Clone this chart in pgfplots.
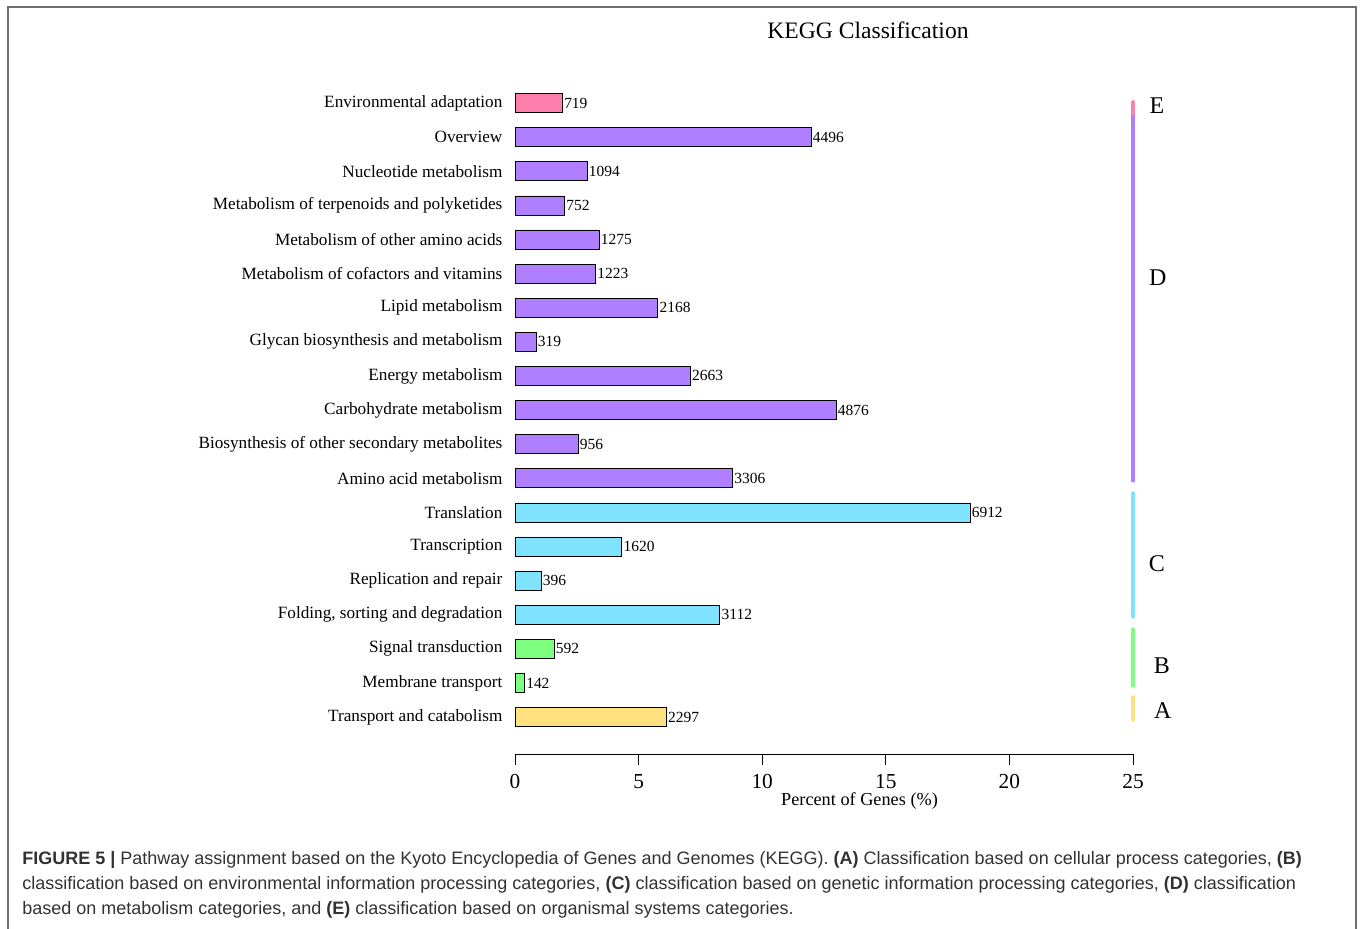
\documentclass[border=0pt]{standalone}
\usepackage{fontspec}
\setmainfont{Liberation Serif}
\newfontfamily\capfont{Liberation Sans}
\usepackage{pgfplots}
\pgfplotsset{compat=1.18}
\usepackage{pgfplotstable}

\definecolor{cE}{RGB}{255,127,172}
\definecolor{cD}{RGB}{176,127,255}
\definecolor{cC}{RGB}{127,226,255}
\definecolor{cB}{RGB}{127,255,127}
\definecolor{cA}{RGB}{255,226,127}
\definecolor{frame}{RGB}{110,110,110}
\definecolor{captxt}{RGB}{50,50,50}

\pgfplotstableread{
y pct n
18 1.914 719
}\tE
\pgfplotstableread{
y pct n
17 11.969 4496
16 2.912 1094
15 2.002 752
14 3.394 1275
13 3.256 1223
12 5.771 2168
11 0.849 319
10 7.089 2663
9 12.980 4876
8 2.545 956
7 8.801 3306
}\tD
\pgfplotstableread{
y pct n
6 18.400 6912
5 4.313 1620
4 1.054 396
3 8.284 3112
}\tC
\pgfplotstableread{
y pct n
2 1.576 592
1 0.378 142
}\tB
\pgfplotstableread{
y pct n
0 6.115 2297
}\tA

\begin{document}
\begin{tikzpicture}
\path[use as bounding box] (0,0) rectangle (1022.25pt,-696pt);
\draw[frame, line width=1.5pt] (6pt,-5.6pt) rectangle (1017pt,-720pt);
\node[font=\fontsize{17.7}{20}\selectfont] at (651pt,-22.5pt) {KEGG Classification};
\begin{axis}[
  at={(386.25pt,-565.5pt)}, anchor=south west,
  scale only axis, width=463.5pt, height=501pt,
  xmin=0, xmax=25, ymin=-1.085, ymax=18.5,
  clip=false,
  xbar, bar width=14.25pt, bar shift=0pt,
  axis x line*=bottom, axis y line*=left,
  y axis line style={draw=none},
  x axis line style={line width=0.6pt},
  xtick={0,5,...,25},
  ytick={0,...,18},
  yticklabels={Transport and catabolism, Membrane transport, Signal transduction, {Folding, sorting and degradation}, Replication and repair, Transcription, Translation, Amino acid metabolism, Biosynthesis of other secondary metabolites, Carbohydrate metabolism, Energy metabolism, Glycan biosynthesis and metabolism, Lipid metabolism, Metabolism of cofactors and vitamins, Metabolism of other amino acids, Metabolism of terpenoids and polyketides, Nucleotide metabolism, Overview, Environmental adaptation},
  tick align=outside,
  major tick length=8.25pt,
  x tick style={black, line width=0.6pt},
  y tick style={draw=none},
  /pgf/number format/assume math mode=true,
  xticklabel style={font=\fontsize{16}{18}\selectfont, yshift=-3.5pt},
  yticklabel style={font=\fontsize{12.9}{14}\selectfont, inner sep=0pt, xshift=-1pt},
  every axis x label/.style={at={(axis description cs:0.5575,0)}, anchor=center, yshift=-35.25pt, font=\fontsize{13.7}{15}\selectfont},
  xlabel={Percent of Genes (\%)},
  nodes near coords, point meta=explicit symbolic,
  every node near coord/.append style={font=\fontsize{11.6}{13}\selectfont, anchor=west, inner sep=0pt, xshift=1.2pt},
]
\addplot[fill=cE, draw=black, line width=0.5pt] table[x=pct,y=y,meta=n]{\tE};
\addplot[fill=cD, draw=black, line width=0.5pt] table[x=pct,y=y,meta=n]{\tD};
\addplot[fill=cC, draw=black, line width=0.5pt] table[x=pct,y=y,meta=n]{\tC};
\addplot[fill=cB, draw=black, line width=0.5pt] table[x=pct,y=y,meta=n]{\tB};
\addplot[fill=cA, draw=black, line width=0.5pt] table[x=pct,y=y,meta=n]{\tA};
\addplot[draw=cE, line width=2.4pt, line cap=round, nodes near coords={}, forget plot, sharp plot] coordinates {(25,18.04) (25,17.6)};
\addplot[draw=cD, line width=2.4pt, line cap=round, nodes near coords={}, forget plot, sharp plot] coordinates {(25,17.6) (25,6.92)};
\addplot[draw=cC, line width=2.4pt, line cap=round, nodes near coords={}, forget plot, sharp plot] coordinates {(25,6.57) (25,2.93)};
\addplot[draw=cB, line width=2.4pt, line cap=round, nodes near coords={}, forget plot, sharp plot] coordinates {(25,2.58) (25,0.91)};
\addplot[draw=cA, line width=2.4pt, line cap=round, nodes near coords={}, forget plot, sharp plot] coordinates {(25,0.59) (25,-0.09)};
\node[font=\fontsize{18}{20}\selectfont] at (axis cs:25.97,17.91) {E};
\node[font=\fontsize{18}{20}\selectfont] at (axis cs:26.0,12.87) {D};
\node[font=\fontsize{18}{20}\selectfont] at (axis cs:25.97,4.49) {C};
\node[font=\fontsize{18}{20}\selectfont] at (axis cs:26.17,1.5) {B};
\node[font=\fontsize{18}{20}\selectfont] at (axis cs:26.2,0.18) {A};
\end{axis}
\begin{scope}[captxt, font=\capfont\fontsize{13.5}{15}\selectfont]
\node[anchor=base west, inner sep=0pt] at (16.5pt,-648pt) {\textbf{FIGURE 5 |} Pathway assignment based on the Kyoto Encyclopedia of Genes and Genomes (KEGG). \textbf{(A)} Classification based on cellular process categories, \textbf{(B)}};
\node[anchor=base west, inner sep=0pt] at (16.5pt,-666.75pt) {classification based on environmental information processing categories, \textbf{(C)} classification based on genetic information processing categories, \textbf{(D)} classification};
\node[anchor=base west, inner sep=0pt] at (16.5pt,-685.5pt) {based on metabolism categories, and \textbf{(E)} classification based on organismal systems categories.};
\end{scope}
\end{tikzpicture}
\end{document}
